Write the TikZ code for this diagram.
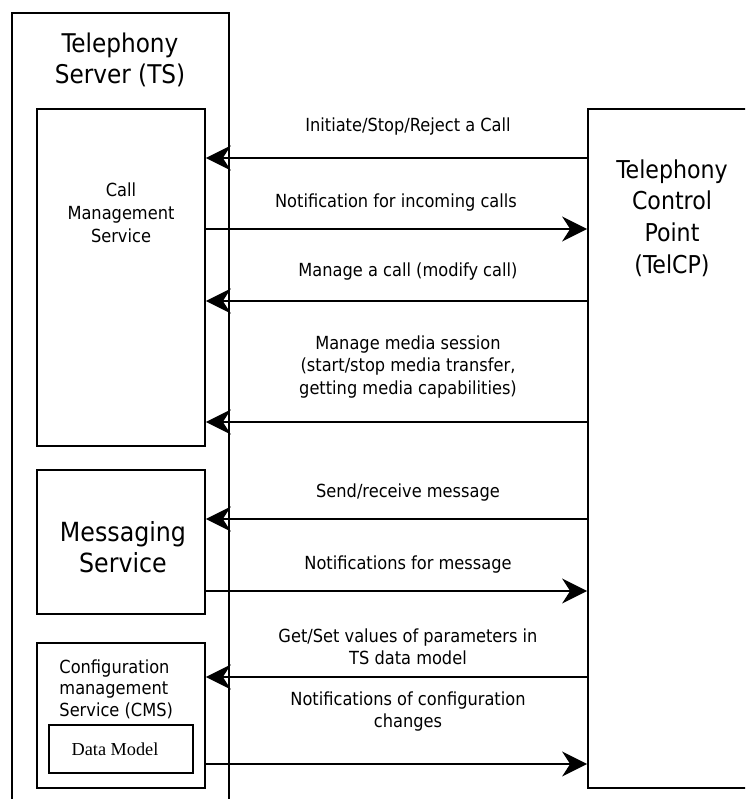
\documentclass[tikz,border=0pt]{standalone}
\usepackage{fontspec}
\setmainfont{DejaVu Sans Condensed}
\newfontfamily\datafont{Liberation Serif}
\usetikzlibrary{arrows.meta}

\begin{document}
\begin{tikzpicture}[>={Stealth[length=7.5mm,width=7.5mm,inset=2.4mm]},
  line width=1.5pt,
  box/.style={draw,rectangle,inner sep=0pt},
  title/.style={align=center,font=\fontsize{22}{26.5}\selectfont},
  lbl/.style={align=center,font=\fontsize{15.4}{18.8}\selectfont},
  msg/.style={line width=1.5pt}]

  \clip (0,0) rectangle (22.35,-23.97);

  % boxes
  \node[box,minimum width=6.51cm,minimum height=24.51cm] (ts) at (3.615,-12.645) {};
  \node[box,minimum width=5.04cm,minimum height=10.11cm] (call) at (3.63,-8.325) {};
  \node[box,minimum width=5.04cm,minimum height=4.32cm] (mess) at (3.63,-16.26) {};
  \node[box,minimum width=5.04cm,minimum height=4.35cm] (conf) at (3.63,-21.465) {};
  \node[box,minimum width=4.32cm,minimum height=1.44cm] (data) at (3.63,-22.47) {};
  \node[box,minimum width=6.36cm,minimum height=20.37cm] (telcp) at (20.82,-13.455) {};

  % box texts
  \node[title] (tstext) at (3.6,-1.8) {Telephony\\Server (TS)};
  \node[title,font=\fontsize{21}{27}\selectfont] (telcptext) at (20.16,-6.54)
    {Telephony\\Control\\Point\\(TelCP)};
  \node[lbl,font=\fontsize{15.4}{19.6}\selectfont] (calltext) at (3.63,-6.39)
    {Call\\Management\\Service};
  \node[title,font=\fontsize{22.5}{26.5}\selectfont] (messtext) at (3.69,-16.41)
    {Messaging\\Service};
  \node[lbl,align=left,anchor=west,font=\fontsize{15.4}{18.4}\selectfont] (conftext) at (1.64,-20.67)
    {Configuration\\management\\Service (CMS)};
  \node[font=\datafont\fontsize{15.6}{18}\selectfont] (datatext) at (3.45,-22.47) {Data Model};

  % rows
  \coordinate (r1) at (0,-4.74);
  \coordinate (r2) at (0,-6.87);
  \coordinate (r3) at (0,-9.03);
  \coordinate (r4) at (0,-12.66);
  \coordinate (r5) at (0,-15.57);
  \coordinate (r6) at (0,-17.73);
  \coordinate (r7) at (0,-20.31);
  \coordinate (r8) at (0,-22.92);

  % messages
  \draw[msg,->] (telcp.west |- r1) -- (call.east |- r1);
  \draw[msg,->] (call.east |- r2) -- (telcp.west |- r2);
  \draw[msg,->] (telcp.west |- r3) -- (call.east |- r3);
  \draw[msg,->] (telcp.west |- r4) -- (call.east |- r4);
  \draw[msg,->] (telcp.west |- r5) -- (mess.east |- r5);
  \draw[msg,->] (mess.east |- r6) -- (telcp.west |- r6);
  \draw[msg,->] (telcp.west |- r7) -- (conf.east |- r7);
  \draw[msg,->] (conf.east |- r8) -- (telcp.west |- r8);

  % message labels
  \node[lbl] (l1) at (12.24,-3.81) {Initiate/Stop/Reject a Call};
  \node[lbl] (l2) at (11.88,-6.09) {Notification for incoming calls};
  \node[lbl] (l3) at (12.24,-8.16) {Manage a call (modify call)};
  \node[lbl] (l4) at (12.24,-11.01) {Manage media session\\(start/stop media transfer,\\getting media capabilities)};
  \node[lbl] (l5) at (12.24,-14.79) {Send/receive message};
  \node[lbl] (l6) at (12.24,-16.95) {Notifications for message};
  \node[lbl] (l7) at (12.24,-19.41) {Get/Set values of parameters in\\TS data model};
  \node[lbl] (l8) at (12.24,-21.36) {Notifications of configuration\\changes};

\end{tikzpicture}
\end{document}
